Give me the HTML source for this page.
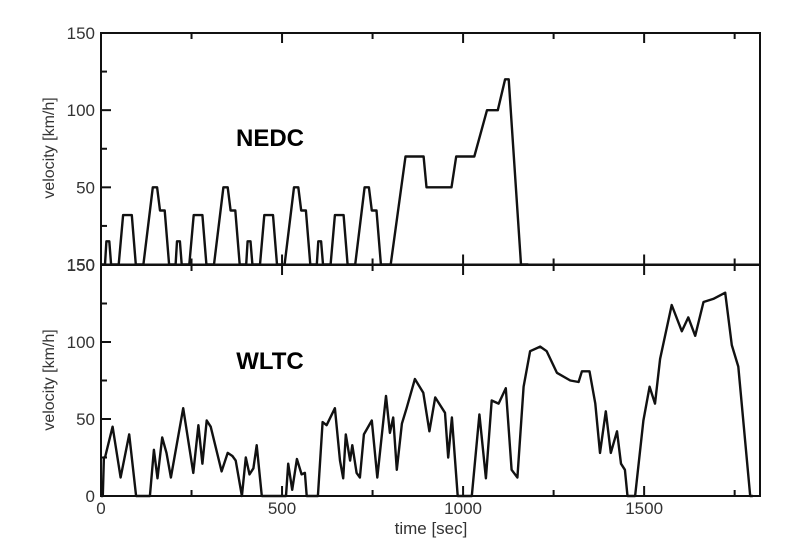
<!DOCTYPE html>
<html><head><meta charset="utf-8"><style>
body{margin:0;background:#fff;}
svg{display:block;font-family:"Liberation Sans",Arial,sans-serif;}
</style></head><body>
<svg id="chart" width="800" height="558" viewBox="0 0 800 558">
<g id="axes"></g>
<text x="270" y="146" font-size="24" font-weight="bold" text-anchor="middle">NEDC</text>
<text x="270" y="369" font-size="24" font-weight="bold" text-anchor="middle">WLTC</text>
<text x="431" y="534" font-size="17" fill="#333" text-anchor="middle">time [sec]</text>
<text transform="translate(54,148) rotate(-90)" font-size="16" fill="#333" text-anchor="middle">velocity [km/h]</text>
<text transform="translate(54,380) rotate(-90)" font-size="16" fill="#333" text-anchor="middle">velocity [km/h]</text>
</svg>
<script>
const nedcTime=[0,11,15,23,28,49,61,85,96,117,143,155,163,176,188,195,206,210,218,223,244,256,280,291,312,338,350,358,371,383,390,401,405,413,418,439,451,475,486,507,533,545,553,566,578,585,596,600,608,613,634,646,670,681,702,728,740,748,761,773,780,800,841,891,899,968,981,1031,1066,1096,1116,1126,1160,1180];
const nedcSpeed=[0,0,15,15,0,0,32,32,0,0,50,50,35,35,0,0,0,15,15,0,0,32,32,0,0,50,50,35,35,0,0,0,15,15,0,0,32,32,0,0,50,50,35,35,0,0,0,15,15,0,0,32,32,0,0,50,50,35,35,0,0,0,70,70,50,50,70,70,100,100,120,120,0,0];
const wltcTime=[0,5,8,11,32,54,78,97,135,146,156,169,181,193,227,255,269,280,292,303,333,350,363,372,389,400,410,421,430,444,511,517,528,541,554,563,568,599,612,623,646,660,669,676,688,694,706,715,726,748,763,787,798,807,817,831,844,867,890,907,923,950,959,969,985,1024,1045,1063,1079,1098,1118,1134,1150,1167,1185,1213,1231,1259,1296,1319,1328,1349,1365,1378,1394,1408,1425,1436,1447,1454,1475,1498,1515,1530,1544,1576,1604,1622,1641,1664,1691,1724,1742,1760,1793,1800];
const wltcSpeed=[0,0,25,25,45,12,40,0,0,30,11.5,38,28,12,57,15,46,21,49,45,16,28,26,23,0,25,14,18,33,0,0,21,4,24,14,15,0,0,48,46,57,23,11.5,40,23,33,15,12,40,49,12,65,41,51,17,47,57,76,67,42,64,54,25,51,0,0,53,11.5,62,60,70,17,12,71,94,97,94,80,75,74,81,81,60,28,55,28,42,21,17,0,0,49,71,60,89,124,107,116,104,126,128,132,98,84,0,0];
const xTicks=[0,500,1000,1500];
const yTicksTop=[150,100,50];
const yTicksBot=[150,100,50,0];

const L=101,R=760,X0=0,X1=1820;
function sx(t){return L+(t-X0)/(X1-X0)*(R-L);}
const topP={top:33,bot:264.5},botP={top:265,bot:496};
function sy(p,v){return p.bot-v/150*(p.bot-p.top);}
const NS="http://www.w3.org/2000/svg";
const svg=document.getElementById('chart');
const ax=document.getElementById('axes');
function mk(tag,attrs,parent){const e=document.createElementNS(NS,tag);for(const k in attrs)e.setAttribute(k,attrs[k]);(parent||ax).appendChild(e);return e;}
[topP,botP].forEach((p,i)=>{
  const r=mk('rect',{x:L,y:p.top,width:R-L,height:p.bot-p.top,fill:'none',stroke:'#111','stroke-width':2});
  
  
  for(let t=0;t<=1750;t+=250){
    const len=t%500===0?10:6;
    const x=sx(t);
    const a=mk('line',{x1:x,x2:x,y1:p.top,y2:p.top+len,stroke:'#111','stroke-width':2});
    
    
    const b=mk('line',{x1:x,x2:x,y1:p.bot,y2:p.bot-len,stroke:'#111','stroke-width':2});
    
    
  }
  for(let v=0;v<=150;v+=25){
    const len=v%50===0?10:6;
    const y=sy(p,v);
    const a=mk('line',{x1:L,x2:L+len,y1:y,y2:y,stroke:'#111','stroke-width':2});
    
    
  }
  const ticks=i?yTicksBot:yTicksTop;
  ticks.forEach(v=>{
    const t=mk('text',{x:95,y:sy(p,v)+6,'font-size':17,fill:'#333','text-anchor':'end'});
    t.textContent=v;
    
    
  });
});
const bl=mk('text',{x:95,y:topP.bot+6,'font-size':17,fill:'#333','text-anchor':'end'});
bl.textContent='150';


xTicks.forEach(t=>{
  const e=mk('text',{x:sx(t),y:514,'font-size':17,fill:'#333','text-anchor':'middle'});
  e.textContent=t;
  
  
});
function line(ts,vs,p,name){
  const d=ts.map((t,i)=>(i?'L':'M')+sx(t).toFixed(1)+','+sy(p,vs[i]).toFixed(1)).join('');
  const e=mk('path',{d:d,fill:'none',stroke:'#111','stroke-width':2.4,'stroke-linejoin':'round'},svg);
  
  
}
line(nedcTime,nedcSpeed,topP,'nedc-line');
line(wltcTime,wltcSpeed,botP,'wltc-line');
</script>
</body></html>
